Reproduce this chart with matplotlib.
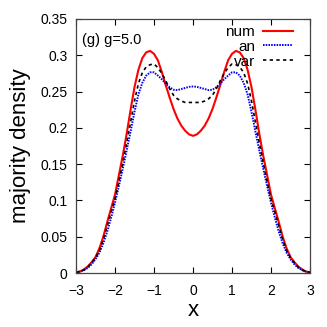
import matplotlib
matplotlib.use("Agg")
import matplotlib.pyplot as plt
import numpy as np

# x grid of the curves
x = np.round(np.arange(-3.0, 3.0001, 0.1), 2)

# left half (x = -3.0 .. 0.0); curves are symmetric
num_left = [0.001, 0.002, 0.005, 0.009, 0.015, 0.022, 0.034, 0.050, 0.070, 0.089,
            0.108, 0.135, 0.162, 0.192, 0.225, 0.256, 0.280, 0.296, 0.304, 0.306,
            0.302, 0.293, 0.277, 0.259, 0.242, 0.226, 0.213, 0.203, 0.196, 0.191,
            0.189]
an_left = [0.001, 0.002, 0.004, 0.007, 0.012, 0.019, 0.028, 0.041, 0.057, 0.076,
           0.097, 0.120, 0.144, 0.169, 0.195, 0.222, 0.246, 0.262, 0.272, 0.2765,
           0.2765, 0.272, 0.267, 0.261, 0.256, 0.2525, 0.252, 0.2535, 0.255, 0.2565,
           0.257]
var_left = [0.001, 0.002, 0.004, 0.008, 0.014, 0.021, 0.031, 0.046, 0.065, 0.084,
            0.102, 0.126, 0.152, 0.179, 0.208, 0.237, 0.261, 0.276, 0.284, 0.287,
            0.288, 0.283, 0.275, 0.265, 0.254, 0.245, 0.240, 0.237, 0.235, 0.235,
            0.235]

num = num_left + num_left[-2::-1]
an = an_left + an_left[-2::-1]
var = var_left + var_left[-2::-1]

xticks = [-3, -2, -1, 0, 1, 2, 3]
yticks = [0, 0.05, 0.1, 0.15, 0.2, 0.25, 0.3, 0.35]
ytick_labels = ["0", "0.05", "0.1", "0.15", "0.2", "0.25", "0.3", "0.35"]

plt.rcParams["font.family"] = ["Liberation Sans", "DejaVu Sans"]

fig = plt.figure(figsize=(3.27, 3.27), dpi=100)
ax = fig.add_axes([0.2324, 0.165, 0.7156, 0.777])

ax.plot(x, num, color="#ff0000", lw=1.5, label="num")
ax.plot(x, an, color="#0000ff", lw=1.4, ls=(0, (0.8, 0.6)), label="an")
ax.plot(x, var, color="black", lw=1.2, ls=(0, (2, 2)), label="var")

ax.set_xlim(-3, 3)
ax.set_ylim(0, 0.35)
ax.set_xticks(xticks)
ax.set_yticks(yticks)
ax.set_yticklabels(ytick_labels)
ax.tick_params(direction="in", length=4, width=0.8, top=True, right=True,
               labelsize=10)
ax.tick_params(axis="x", pad=8)
ax.tick_params(axis="y", pad=6)
for s in ax.spines.values():
    s.set_color("#444444")
    s.set_linewidth(0.9)

ax.set_xlabel("x", fontsize=16, labelpad=1)
ax.set_ylabel("majority density", fontsize=16, labelpad=7)

ax.text(0.025, 0.9, "(g) g=5.0", transform=ax.transAxes, fontsize=10.5)

ax.legend(loc="upper right", frameon=False, markerfirst=False, fontsize=11,
          handlelength=2.0, handletextpad=0.5, labelspacing=0.05,
          borderaxespad=0.2, borderpad=0.2, bbox_to_anchor=(0.955, 1.0))

fig.savefig("out.png", dpi=100)
